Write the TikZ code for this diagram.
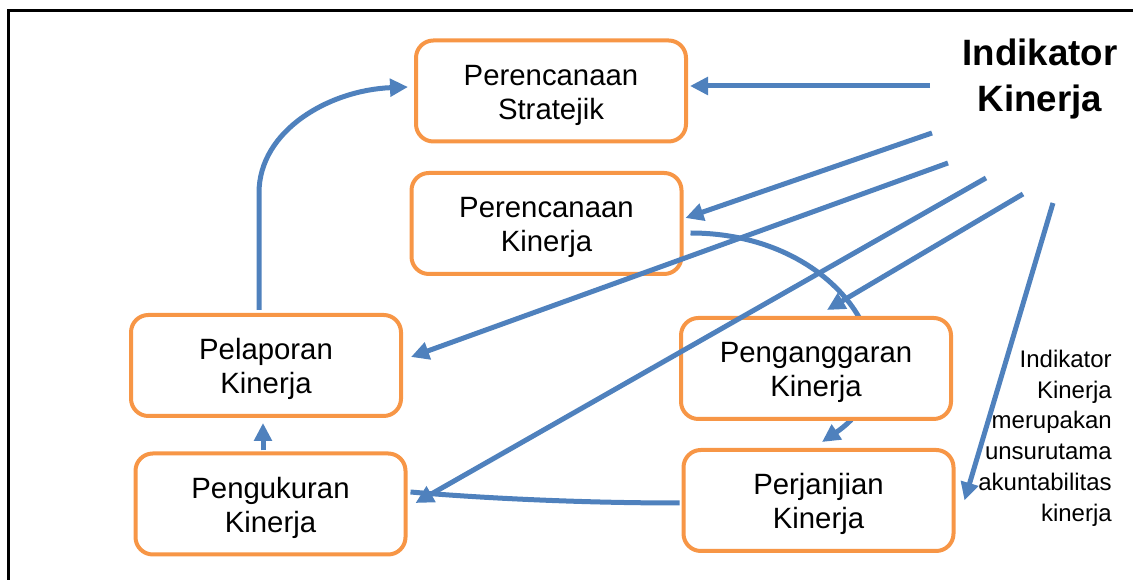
\documentclass[tikz,border=0pt]{standalone}
\usepackage{fontspec}
\setmainfont{Liberation Sans}
\usetikzlibrary{arrows.meta,backgrounds,calc}
\definecolor{ablue}{HTML}{4F81BD}
\definecolor{aorange}{HTML}{F79646}
\newcommand\myup{\rule{0pt}{21.5pt}}
\begin{document}
\begin{tikzpicture}[x=0.75pt,y=-0.75pt,
  box/.style={draw=aorange, line width=3pt, rounded corners=13pt, fill=white,
    minimum width=202.5pt, minimum height=75.75pt, align=center, inner sep=0pt,
    font=\fontsize{22}{25.5}\selectfont},
  conn/.style={draw=ablue, line width=3.75pt},
  arr/.style={conn, -{Triangle[length=13.5pt,width=13pt]}},
  frame/.style={draw=black, line width=2.25pt}
]
\path[use as bounding box] (0,0) rectangle (1133,580);
\draw[frame] (8,582) -- (8,11) -- (1135,11);

\node[box] (ps) at (551,91) {\myup Perencanaan\\Stratejik};
\node[box] (pk) at (546.5,223.5) {\myup Perencanaan\\Kinerja};
\node[box] (pl) at (266,365.5) {\myup Pelaporan\\Kinerja};
\node[box] (pg) at (816,368.5) {\myup Penganggaran\\Kinerja};
\node[box] (pu) at (270.5,504) {\myup Pengukuran\\Kinerja};
\node[box] (pj) at (818.5,500.5) {\myup Perjanjian\\Kinerja};

\node[font=\bfseries\fontsize{27.5}{35}\selectfont, align=center, inner sep=0pt] (ik) at (1040,79) {Indikator\\Kinerja};
\node[font=\fontsize{18}{23.1}\selectfont, align=right, anchor=east, inner sep=0pt] (note) at (1112,438)
  {Indikator\\Kinerja\\merupakan\\unsurutama\\akuntabilitas\\kinerja};

\coordinate (s1) at (930,86);
\coordinate (s2) at (932,133);
\coordinate (s3) at (948,163);
\coordinate (s4) at (986,178);
\coordinate (s5) at (1023,194);
\coordinate (s6) at (1053,203);

\begin{scope}[on background layer]
  \draw[arr] ($(pk.east)+(7,9.5)$) .. controls (845,233) and (925,372) .. ($(pj.north)+(3.5,-6)$);
\end{scope}

\draw[conn] ($(pj.west)+(-2,2.5)$) .. controls (580,503) and (480,498) .. ($(pu.east)+(3,-12)$);

\draw[arr] (s1) -- ($(ps.east)+(2,-5)$);
\draw[arr] (s2) -- ($(pk.east)+(2,-5.5)$);
\draw[arr] (s3) -- ($(pl.east)+(8,-8.5)$);
\draw[arr] (s4) -- ($(pu.east)+(8,-1)$);
\draw[arr] (s5) -- ($(pg.north)+(11,-6)$);
\draw[arr] (s6) -- ($(pj.east)+(9,0)$);

\draw[arr] ($(pu.north)+(-7.5,-1)$) -- ($(pl.south)+(-3,5)$);
\draw[arr] ($(pl.north)+(-7,-3)$) -- (259,193) .. controls (259,130) and (330,90) .. ($(ps.west)+(-6,-4)$);
\end{tikzpicture}
\end{document}
